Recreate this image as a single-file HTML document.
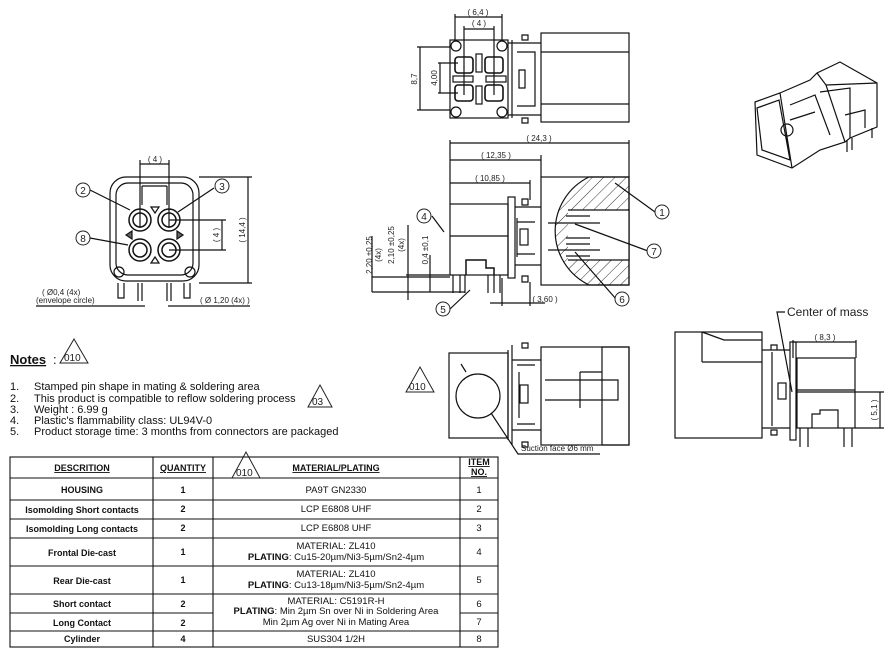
<!DOCTYPE html>
<html><head><meta charset="utf-8"><style>
html,body{margin:0;padding:0;background:#fff;}
svg{display:block;font-family:"Liberation Sans",sans-serif;}
</style></head><body>
<svg width="890" height="648" viewBox="0 0 890 648" xmlns="http://www.w3.org/2000/svg">
<defs>
<pattern id="h" width="8" height="8" patternUnits="userSpaceOnUse" patternTransform="rotate(45)"><line x1="0" y1="0" x2="0" y2="8" stroke="#333" stroke-width="1"/></pattern>
</defs>
<g fill="none" stroke="#111" stroke-width="1.2">
<!-- FRONT VIEW -->
<rect x="110" y="177" width="89" height="104" rx="16"/>
<rect x="116" y="183" width="77" height="92" rx="12"/>
<path d="M142,186 V205 M167,186 V205 M142,186 H167"/>
<g stroke-width="1.5">
<circle cx="140" cy="220" r="11"/><circle cx="140" cy="220" r="7"/>
<circle cx="169" cy="220" r="11"/><circle cx="169" cy="220" r="7"/>
<circle cx="140" cy="250" r="11"/><circle cx="140" cy="250" r="7"/>
<circle cx="169" cy="250" r="11"/><circle cx="169" cy="250" r="7"/>
</g>
<circle cx="119" cy="272" r="5"/><circle cx="190" cy="272" r="5"/>
<path d="M151,207 l4,6 l4,-6z M151,263 l4,-6 l4,6z"/>
<path d="M126,235 l6,-4 v8z M183,235 l-6,-4 v8z" fill="#666"/>
<path d="M118,283 v15 h6 v-15 M138,283 v18 M142,283 v18 M167,283 v18 M171,283 v18 M184,283 v15 h6 v-15"/>
<path d="M140,160 V228 M169,160 V228 M140,164 H169 M169,220 H226 M169,250 H226 M222,220 V250 M199,177 H252 M199,283 H252 M248,177 V283"/>
<path d="M36,306 H145 M168,306 H250"/>
<path d="M90,190 L130,210 M214,188 L178,212 M90,238 L128,245"/>
<!-- TOP VIEW -->
<rect x="450" y="40" width="58" height="78"/>
<circle cx="456" cy="46" r="5"/><circle cx="502" cy="46" r="5"/><circle cx="456" cy="112" r="5"/><circle cx="502" cy="112" r="5"/>
<rect x="455" y="57" width="18" height="16" rx="3" stroke-width="1.6"/><rect x="485" y="57" width="18" height="16" rx="3" stroke-width="1.6"/>
<rect x="455" y="85" width="18" height="16" rx="3" stroke-width="1.6"/><rect x="485" y="85" width="18" height="16" rx="3" stroke-width="1.6"/>
<rect x="476" y="54" width="6" height="18"/><rect x="476" y="86" width="6" height="18"/>
<rect x="453" y="76" width="20" height="6"/><rect x="486" y="76" width="20" height="6"/>
<path d="M508,43 H541 M508,115 H541 M512,40 V118 M517,52 H535 V106 H517 M519,70 h6 v18 h-6z M522,35 h6 v5 h-6z M522,118 h6 v5 h-6z"/>
<rect x="541" y="33" width="88" height="89"/>
<path d="M541,52 H629 M541,104 H629"/>
<path d="M455,14 V40 M502,14 V40 M455,17 H502 M464,26 V95 M494,26 V95 M464,29 H494 M417,47 H450 M417,110 H450 M420,47 V110 M438,63 H458 M438,93 H458 M440,63 V93"/>
<!-- SIDE VIEW -->
<rect x="450" y="204" width="58" height="71"/>
<path d="M450,236 H508"/>
<rect x="508" y="197" width="7" height="81"/>
<path d="M515,207 H541 M515,265 H541 M517,218 V257 M517,222 H535 M517,254 H535 M522,199 h6 v6 h-6z M522,276 h6 v6 h-6z"/>
<rect x="520" y="229" width="8" height="16"/>
<rect x="541" y="177" width="88" height="108"/>
<path d="M589,177 A60,60 0 0,0 589,285 H629 V177z" fill="url(#h)"/>
<path d="M568,210 H629 V260 H568" fill="#fff"/>
<path d="M566,216 H590 M566,238 H590 M566,244 H590 M566,256 H590 M548,223 H600 M548,250 H600"/>
<path d="M466,275 V260 H486 V268 H494 V275" stroke-width="1.5"/>
<path d="M453,275 v18 M460,275 v18 M465,275 v18 M488,275 v18 M494,275 v18 M500,275 v18"/>
<path d="M450,140 V204 M629,140 V177 M541,155 V177 M530,180 V200 M450,143 H629 M450,160 H541 M450,183 H530"/>
<path d="M372,277 H450 M372,292 H465 M406,275 H450 M372,236 V292 M408,225 V300 M430,255 V292 M502,278 V306 M530,282 V306 M490,303 H545"/>
<path d="M432,216 L444,232 M450,309 L470,290 M655,212 L615,183 M648,251 L575,224 M616,299 L575,252"/>
<!-- BOTTOM MIDDLE VIEW -->
<rect x="449" y="353" width="59" height="85"/>
<circle cx="478" cy="396" r="22"/>
<path d="M508,350 V440 M512,345 V445 M512,360 H541 M512,430 H541 M517,365 H535 M517,424 H535 M519,372 V418 M522,343 h6 v5 h-6z M522,442 h6 v5 h-6z"/>
<rect x="520" y="385" width="8" height="18"/>
<rect x="541" y="347" width="88" height="98"/>
<rect x="602" y="347" width="27" height="98"/>
<path d="M545,380 H618 V400 H545 M580,372 H602 M580,372 V408"/>
<path d="M466,372 L461,364 M491,413 L518,454 H600"/>
<!-- RIGHT BOTTOM VIEW -->
<rect x="675" y="332" width="87" height="106"/>
<path d="M702,332 V362 M702,362 H762 M702,332 L724,340 H762"/>
<path d="M762,350 H790 M762,428 H790 M772,352 V426 M771,345 h6 v5 h-6z M771,430 h6 v5 h-6z"/>
<rect x="778" y="383" width="8" height="16"/>
<rect x="790" y="342" width="6" height="98"/>
<rect x="797" y="358" width="58" height="70"/>
<path d="M797,390 H855 M812,428 V414 H820 V410 H838 V428"/>
<path d="M800,428 V447 M808,428 V447 M844,428 V447 M852,428 V447"/>
<path d="M793,340 V358 M856,340 V358 M793,342 H856 M797,392 H884 M855,428 H884 M880,392 V428"/>
<path d="M785,312 H777 L792,392" />
<!-- ISO VIEW -->
<path d="M755,102 L780,93 L810,80 L817,73 L840,62 L877,83 L877,127 L850,138 L845,142 L820,150 L792,168 L757,155z"/>
<path d="M757,108 L779,100 L790,160 L762,150z M780,93 L792,168 M790,105 L815,95 L830,135 M817,73 L826,85 L845,142 M826,85 L877,83 M820,92 L850,88 L850,138 M790,120 L815,112 M845,115 L865,110 V128"/>
<circle cx="787" cy="130" r="6"/>
<path d="M847,140 V152 M852,138 V150 M872,128 V138"/>
</g>
<g fill="none" stroke="#222">
<path d="M60,363 L74,339 L88,363z"/>
<path d="M308,407 L320,385 L332,407z"/>
<path d="M406,392 L420,367 L434,392z"/>
<path d="M232,478 L246,452 L260,478z"/>
</g>
<g fill="#fff" stroke="#222">
<circle cx="83" cy="190" r="7"/><circle cx="222" cy="186" r="7"/><circle cx="83" cy="238" r="7"/>
<circle cx="424" cy="216" r="7"/><circle cx="443" cy="309" r="7"/><circle cx="662" cy="212" r="7"/><circle cx="654" cy="251" r="7"/><circle cx="622" cy="299" r="7"/>
</g>
<g font-size="10" text-anchor="middle" fill="#222">
<text x="83" y="194">2</text><text x="222" y="190">3</text><text x="83" y="242">8</text>
<text x="424" y="220">4</text><text x="443" y="313">5</text><text x="662" y="216">1</text><text x="654" y="255">7</text><text x="622" y="303">6</text>
</g>
<g font-size="8" fill="#222" text-anchor="middle">
<text x="155" y="162">( 4 )</text>
<text x="478" y="15">( 6,4 )</text><text x="479" y="26">( 4 )</text>
<text x="539" y="141">( 24,3 )</text><text x="496" y="158">( 12,35 )</text><text x="490" y="181">( 10,85 )</text>
<text x="545" y="302">( 3,60 )</text>
<text x="825" y="340">( 8,3 )</text>
<text transform="translate(245,230) rotate(-90)">( 14,4 )</text>
<text transform="translate(219,235) rotate(-90)">( 4 )</text>
<text transform="translate(417,79) rotate(-90)">8,7</text>
<text transform="translate(437,78) rotate(-90)">4,00</text>
<text transform="translate(372,255) rotate(-90)">2,20 ±0,25</text>
<text transform="translate(381,255) rotate(-90)">(4x)</text>
<text transform="translate(394,245) rotate(-90)">2,10 ±0,25</text>
<text transform="translate(404,245) rotate(-90)">(4x)</text>
<text transform="translate(428,250) rotate(-90)">0,4 ±0,1</text>
<text transform="translate(877,410) rotate(-90)">( 5,1 )</text>
</g>
<g font-size="8" fill="#222">
<text x="42" y="295">( Ø0,4 (4x)</text><text x="36" y="303">(envelope circle)</text>
<text x="200" y="303">( Ø 1,20 (4x) )</text>
<text x="521" y="451">Suction face  Ø6 mm</text>
</g>
<text x="787" y="316" font-size="12" fill="#222">Center of mass</text>
<g font-size="10" fill="#222">
<text x="64" y="361">010</text><text x="312" y="405">03</text><text x="409" y="390">010</text><text x="236" y="476">010</text>
</g>
<text x="10" y="364" font-size="13" font-weight="bold" text-decoration="underline" fill="#111">Notes</text><text x="53" y="364" font-size="13" fill="#111">:</text>
<g font-size="11" fill="#111">
<text x="10" y="390">1.</text><text x="34" y="390">Stamped pin shape in mating &amp; soldering area</text>
<text x="10" y="402">2.</text><text x="34" y="402">This product is compatible to reflow soldering process</text>
<text x="10" y="413">3.</text><text x="34" y="413">Weight : 6.99 g</text>
<text x="10" y="424">4.</text><text x="34" y="424">Plastic's flammability class: UL94V-0</text>
<text x="10" y="435">5.</text><text x="34" y="435">Product storage time: 3 months from connectors are packaged</text>
</g>
<g fill="none" stroke="#111" stroke-width="1.1">
<rect x="10" y="457" width="488" height="190"/>
<path d="M153,457 V647 M213,457 V647 M460,457 V647"/>
<path d="M10,478 H498 M10,500 H498 M10,519 H498 M10,538 H498 M10,566 H498 M10,594 H498 M10,613 H213 M460,613 H498 M10,631 H498"/>
</g>
<g font-size="9" font-weight="bold" fill="#111" text-anchor="middle">
<text x="82" y="471" text-decoration="underline">DESCRITION</text>
<text x="183" y="471" text-decoration="underline">QUANTITY</text>
<text x="336" y="471" text-decoration="underline">MATERIAL/PLATING</text>
<text x="479" y="465" text-decoration="underline">ITEM</text>
<text x="479" y="475" text-decoration="underline">NO.</text>
<text x="82" y="493">HOUSING</text>
<text x="82" y="513">Isomolding Short contacts</text>
<text x="82" y="532">Isomolding Long contacts</text>
<text x="82" y="556">Frontal Die-cast</text>
<text x="82" y="584">Rear Die-cast</text>
<text x="82" y="607">Short contact</text>
<text x="82" y="626">Long Contact</text>
<text x="82" y="642">Cylinder</text>
<text x="183" y="493">1</text><text x="183" y="512">2</text><text x="183" y="531">2</text><text x="183" y="555">1</text><text x="183" y="583">1</text><text x="183" y="607">2</text><text x="183" y="626">2</text><text x="183" y="642">4</text>
</g>
<g font-size="9.5" fill="#111" text-anchor="middle">
<text x="336" y="493">PA9T GN2330</text>
<text x="336" y="512">LCP E6808 UHF</text>
<text x="336" y="531">LCP E6808 UHF</text>
<text x="336" y="549">MATERIAL: ZL410</text>
<text x="336" y="560"><tspan font-weight="bold">PLATING</tspan>: Cu15-20µm/Ni3-5µm/Sn2-4µm</text>
<text x="336" y="577">MATERIAL: ZL410</text>
<text x="336" y="588"><tspan font-weight="bold">PLATING</tspan>: Cu13-18µm/Ni3-5µm/Sn2-4µm</text>
<text x="336" y="604">MATERIAL: C5191R-H</text>
<text x="336" y="614"><tspan font-weight="bold">PLATING</tspan>: Min 2µm Sn over Ni in Soldering Area</text>
<text x="336" y="625">Min 2µm Ag over Ni in Mating Area</text>
<text x="336" y="642">SUS304 1/2H</text>
<text x="479" y="493">1</text><text x="479" y="512">2</text><text x="479" y="531">3</text><text x="479" y="555">4</text><text x="479" y="583">5</text><text x="479" y="607">6</text><text x="479" y="625">7</text><text x="479" y="642">8</text>
</g>
</svg>
</body></html>
